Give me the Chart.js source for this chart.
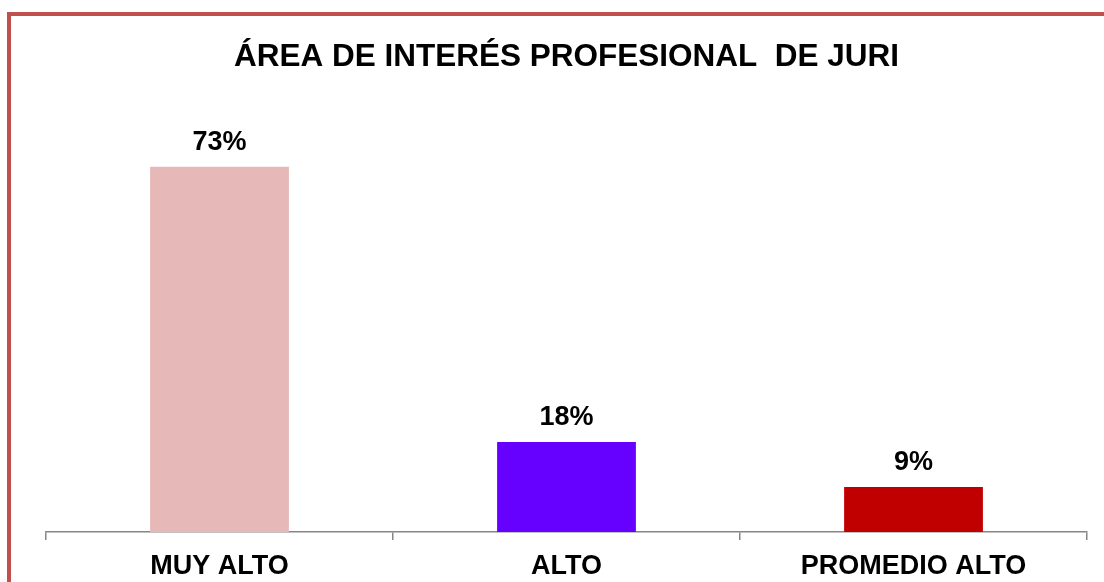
<!DOCTYPE html>
<html>
<head>
<meta charset="utf-8">
<script src="https://cdn.jsdelivr.net/npm/chart.js@4"></script>
<style>
  html, body { margin: 0; padding: 0; background: #fff; overflow: hidden; }
  #wrap { position: relative; width: 1104px; height: 582px; overflow: hidden; }
  #marco {
    position: absolute; left: 7px; top: 12px; width: 1200px; height: 700px;
    border: 4px solid #c0504d; pointer-events: none;
  }
  canvas { position: absolute; left: 0; top: 0; }
</style>
</head>
<body>
<div id="wrap">
  <canvas id="myChart" width="1104" height="584"></canvas>
  <div id="marco"></div>
</div>
<script>
const categorias = ['MUY ALTO', 'ALTO', 'PROMEDIO ALTO'];
const porcentajes = [73, 18, 9];
const colores = ['#e6b9b8', '#6600ff', '#c00000'];
const titulo = 'ÁREA DE INTERÉS PROFESIONAL  DE JURI';

const ctx = document.querySelector('#myChart');
Chart.defaults.font.family = '"Liberation Sans", Arial, sans-serif';
Chart.defaults.color = '#000';

// etiquetas de valor encima de cada barra
const etiquetas = {
  id: 'etiquetas',
  afterDatasetsDraw(chart) {
    const c = chart.ctx;
    const meta = chart.getDatasetMeta(0);
    c.save();
    c.font = 'bold 27px "Liberation Sans", Arial, sans-serif';
    c.fillStyle = '#000';
    c.textAlign = 'center';
    c.textBaseline = 'alphabetic';
    meta.data.forEach((bar, i) => {
      c.fillText(porcentajes[i] + '%', bar.x, bar.y - 17);
    });
    c.restore();
  }
};

const grafico = new Chart(ctx, {
  type: 'bar',
  data: {
    labels: categorias,
    datasets: [{
      data: porcentajes,
      backgroundColor: colores,
      borderWidth: 0,
      barPercentage: 0.4,
      categoryPercentage: 1
    }]
  },
  options: {
    responsive: false,
    animation: false,
    devicePixelRatio: 1,
    layout: { padding: { left: 46, right: 17, top: 0, bottom: -9 } },
    plugins: {
      legend: { display: false },
      tooltip: { enabled: false },
      title: {
        display: true,
        text: titulo,
        font: { size: 31.5, weight: 'bold' },
        color: '#000',
        padding: { top: 38, bottom: 56 }
      }
    },
    scales: {
      x: {
        grid: { display: true, drawOnChartArea: false, drawTicks: true, tickLength: 8, color: '#868686', lineWidth: 1.5 },
        border: { display: true, color: '#868686', width: 1.5 },
        ticks: { font: { size: 27, weight: 'bold', lineHeight: 1 }, color: '#000', padding: 13 }
      },
      y: {
        display: false,
        min: 0,
        max: 80
      }
    }
  },
  plugins: [etiquetas]
});
</script>
</body>
</html>
